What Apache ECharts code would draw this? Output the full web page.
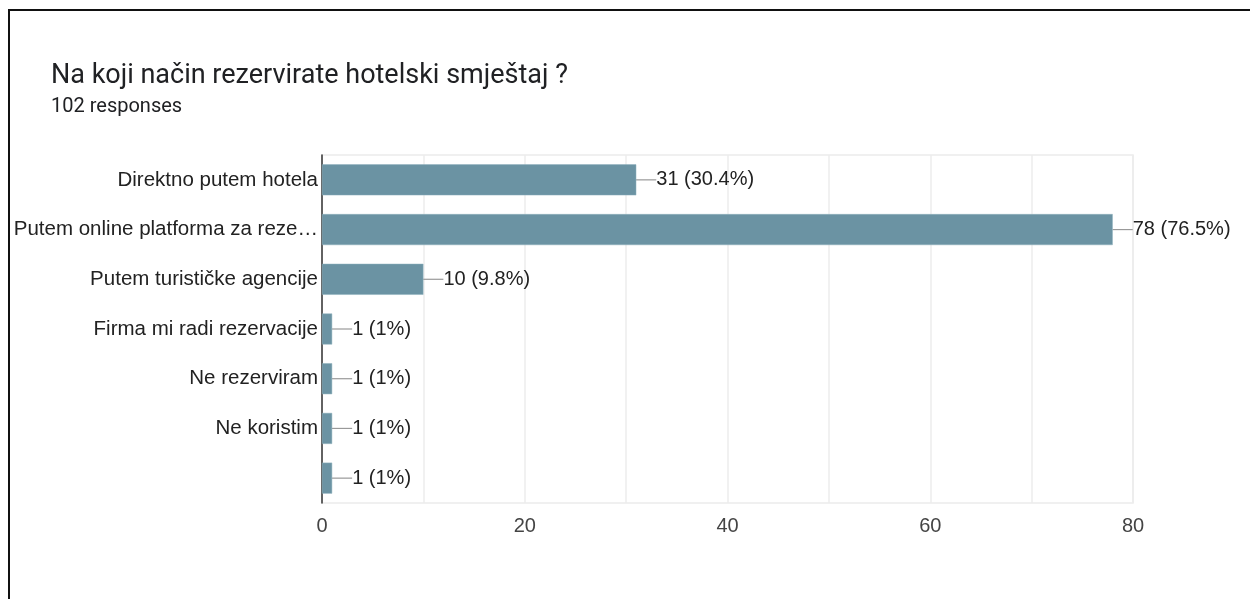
<!DOCTYPE html>
<html>
<head>
<meta charset="utf-8">
<script src="https://cdn.jsdelivr.net/npm/echarts@6/dist/echarts.min.js"></script>
<style>
    html, body { margin: 0; padding: 0; background: #fff; }
    .frame {
        position: absolute;
        left: 8px;
        top: 9px;
        width: 1250px;
        height: 600px;
        border-top: 2px solid #111;
        border-left: 2px solid #111;
    }
    #chart {
        position: absolute;
        left: 0;
        top: 0;
        width: 1250px;
        height: 599px;
    }
</style>
</head>
<body>
<div class="frame"></div>
<div id="chart"></div>
<script>
// categories, top to bottom as in the form summary
const categories = [
    'Direktno putem hotela',
    'Putem online platforma za reze…',
    'Putem turističke agencije',
    'Firma mi radi rezervacije',
    'Ne rezerviram',
    'Ne koristim',
    ''
];
const counts = [31, 78, 10, 1, 1, 1, 1];
const percents = ['30.4%', '76.5%', '9.8%', '1%', '1%', '1%', '1%'];
const totalResponses = 102;

const chartFont = '"Liberation Sans", Arial, Helvetica, sans-serif';

const mychart = echarts.init(document.getElementById('chart'));

const option = {
    animation: false,
    textStyle: {
        fontFamily: chartFont
    },
    title: {
        text: 'Na koji način rezervirate hotelski smještaj ?',
        subtext: totalResponses + ' responses',
        left: 46,
        top: 58,
        itemGap: 7,
        textStyle: {
            fontFamily: 'Roboto, sans-serif',
            fontSize: 27,
            fontWeight: 'normal',
            color: '#202124'
        },
        subtextStyle: {
            fontFamily: 'Roboto, sans-serif',
            fontSize: 20,
            color: '#202124'
        }
    },
    grid: {
        left: 322,
        right: 117,
        top: 155,
        bottom: 96,
        show: true,
        borderColor: '#ececec',
        borderWidth: 1.5,
        containLabel: false
    },
    xAxis: {
        type: 'value',
        min: 0,
        max: 80,
        interval: 10,
        axisLine: { show: false },
        axisTick: { show: false },
        splitLine: {
            show: true,
            lineStyle: { color: '#ececec', width: 1.5 }
        },
        axisLabel: {
            color: '#444',
            fontSize: 20,
            margin: 13,
            formatter: v => (v % 20 === 0 ? String(v) : '')
        }
    },
    yAxis: {
        type: 'category',
        inverse: true,
        data: categories,
        axisLine: {
            show: true,
            lineStyle: { color: '#333', width: 1.5 }
        },
        axisTick: { show: false },
        axisLabel: {
            color: '#222',
            fontSize: 20.5,
            margin: 4,
            padding: [4, 0, 0, 0]
        }
    },
    series: [
        {
            type: 'bar',
            data: counts,
            barWidth: 31,
            itemStyle: {
                color: '#6b93a3',
                borderColor: '#8fb0bd',
                borderWidth: 0.5
            },
            label: {
                show: true,
                position: 'right',
                distance: 0,
                color: '#222',
                fontSize: 20,
                formatter: p => p.value + ' (' + percents[p.dataIndex] + ')'
            },
            labelLayout: {
                dx: 20
            },
            labelLine: {
                show: true,
                lineStyle: { color: '#999', width: 1.2 }
            }
        }
    ]
};

mychart.setOption(option);
</script>
</body>
</html>
